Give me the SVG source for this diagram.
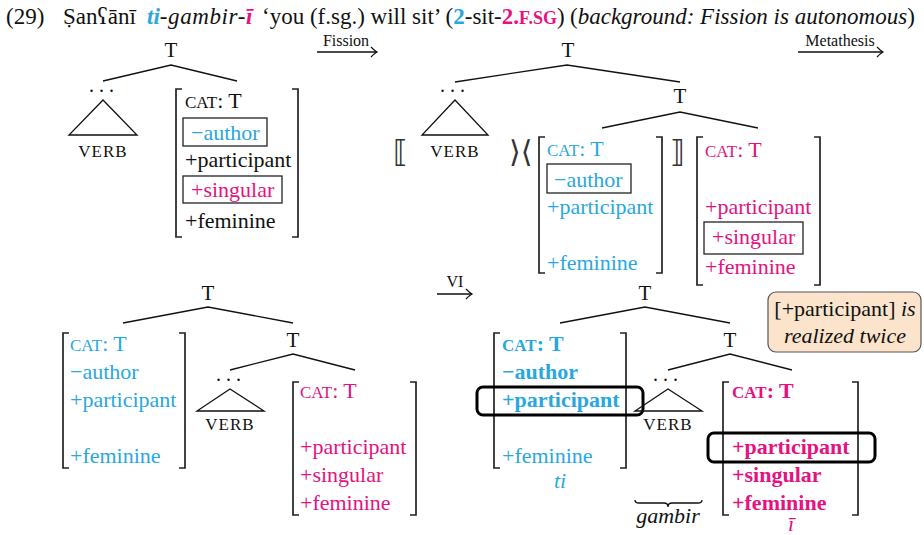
<svg xmlns="http://www.w3.org/2000/svg" width="924" height="535" viewBox="0 0 924 535">
<defs>
<style>
text{font-family:"Liberation Serif","DejaVu Serif",serif;fill:#111}
.hd{font-size:23px}
.f{font-size:22px}
.lbl{font-size:21px;text-anchor:middle}
.verb{font-size:17px;letter-spacing:1px;text-anchor:middle}
.sc{font-size:17px}
.dots{font-size:20px;letter-spacing:5px}
.ar{font-size:16px;text-anchor:middle}
.b{fill:#29a8e0}
.p{fill:#e6127f}
.bold{font-weight:bold}
.it{font-style:italic}
.edge{fill:none;stroke:#111;stroke-width:1.3}
.brk{fill:none;stroke:#222;stroke-width:1.7}
.box{fill:none;stroke:#222;stroke-width:1.3}
.hl{fill:none;stroke:#000;stroke-width:3}
.sym{font-family:"DejaVu Sans",sans-serif;font-size:30px;fill:#333}
</style>
<marker id="arr" viewBox="-8 -6 10 12" markerWidth="10" markerHeight="12" refX="0" refY="0" orient="auto" markerUnits="userSpaceOnUse">
<path d="M-6,-5 Q-2,-1 0,0 Q-2,1 -6,5" fill="none" stroke="#111" stroke-width="1.2"/>
</marker>
</defs>

<g id="header">
<text class="hd" x="6" y="24">(29)</text>
<text class="hd" y="24"><tspan x="63">Ṣanʕānī</tspan> <tspan x="147" class="b bold it">ti</tspan><tspan class="it" letter-spacing="0.6">-gambir-</tspan><tspan class="p bold it">ī</tspan> <tspan x="262">‘you (f.sg.) will sit’</tspan> (<tspan class="b bold">2</tspan>-sit-<tspan class="p bold">2.<tspan font-size="18">F.SG</tspan></tspan>) <tspan x="570">(</tspan><tspan class="it">background: Fission is autonomous</tspan>)</text>
</g>

<g id="connectors">
<path class="edge" d="M103,81 L171,65 L237,81"/>
<path class="edge" d="M455,82 L567,65 L680,82"/>
<path class="edge" d="M602,128 L680,112 L758,128"/>
<path class="edge" d="M123,323 L208,307 L293,323"/>
<path class="edge" d="M230,370 L293,354 L355,370"/>
<path class="edge" d="M560,323 L645,307 L730,323"/>
<path class="edge" d="M668,370 L730,354 L792,370"/>
<path class="edge" d="M317,52 L377,52" marker-end="url(#arr)"/>
<path class="edge" d="M798,52 L883,52" marker-end="url(#arr)"/>
<path class="edge" d="M437,294 L472,294" marker-end="url(#arr)"/>
</g>

<g id="arrow-labels">
<text class="ar" x="346" y="46">Fission</text>
<text class="ar" x="840" y="46">Metathesis</text>
<text class="ar" x="455" y="287">VI</text>
</g>

<!-- Tree 1 -->
<g id="t1-root"><text class="lbl" x="171" y="57">T</text></g>
<g id="t1-verb">
<text class="dots" x="89" y="92">...</text>
<path class="edge" d="M103,100 L69,135 L137,135 Z"/>
<text class="verb" x="103" y="157">VERB</text>
</g>
<g id="t1-matrix">
<path class="brk" d="M182,89 H176 V237 H182"/>
<path class="brk" d="M292,89 H298 V237 H292"/>
<text class="f" x="185" y="108"><tspan class="sc">CAT</tspan>: T</text>
<rect class="box" x="183" y="118" width="84" height="28"/>
<text class="f b" x="191" y="140">−author</text>
<text class="f" x="185" y="167">+participant</text>
<rect class="box" x="183" y="176" width="99" height="27"/>
<text class="f p" x="191" y="197">+singular</text>
<text class="f" x="185" y="228">+feminine</text>
</g>

<!-- Tree 2 -->
<g id="t2-root"><text class="lbl" x="568" y="57">T</text></g>
<g id="t2-verb">
<text class="dots" x="440" y="92">...</text>
<path class="edge" d="M455,100 L422,135 L488,135 Z"/>
<text class="verb" x="455" y="157">VERB</text>
<text class="sym" x="393" y="162">⟦</text>
<text class="sym" x="509" y="162">⟩⟨</text>
</g>
<g id="t2-inner"><text class="lbl" x="680" y="103">T</text></g>
<g id="t2-blue">
<path class="brk" d="M545,137 H539 V273 H545"/>
<path class="brk" d="M656,137 H662 V273 H656"/>
<text class="f b" x="547" y="156"><tspan class="sc">CAT</tspan>: T</text>
<rect class="box" x="547" y="164" width="84" height="29"/>
<text class="f b" x="554" y="187">−author</text>
<text class="f b" x="547" y="214">+participant</text>
<text class="f b" x="547" y="270">+feminine</text>
<text class="sym" x="670" y="162">⟧</text>
</g>
<g id="t2-pink">
<path class="brk" d="M703,137 H697 V285 H703"/>
<path class="brk" d="M814,137 H820 V285 H814"/>
<text class="f p" x="705" y="157"><tspan class="sc">CAT</tspan>: T</text>
<text class="f p" x="705" y="214">+participant</text>
<rect class="box" x="704" y="222" width="99" height="32"/>
<text class="f p" x="712" y="244">+singular</text>
<text class="f p" x="705" y="274">+feminine</text>
</g>

<!-- Tree 3 -->
<g id="t3-root"><text class="lbl" x="208" y="300">T</text></g>
<g id="t3-blue">
<path class="brk" d="M69,333 H63 V468 H69"/>
<path class="brk" d="M179,333 H185 V468 H179"/>
<text class="f b" x="70" y="351"><tspan class="sc">CAT</tspan>: T</text>
<text class="f b" x="70" y="379">−author</text>
<text class="f b" x="70" y="407">+participant</text>
<text class="f b" x="70" y="463">+feminine</text>
</g>
<g id="t3-inner"><text class="lbl" x="293" y="347">T</text></g>
<g id="t3-verb">
<text class="dots" x="216" y="381">...</text>
<path class="edge" d="M230,389 L197,411 L264,411 Z"/>
<text class="verb" x="230" y="430">VERB</text>
</g>
<g id="t3-pink">
<path class="brk" d="M299,382 H293 V515 H299"/>
<path class="brk" d="M410,382 H416 V515 H410"/>
<text class="f p" x="300" y="398"><tspan class="sc">CAT</tspan>: T</text>
<text class="f p" x="300" y="454">+participant</text>
<text class="f p" x="300" y="482">+singular</text>
<text class="f p" x="300" y="510">+feminine</text>
</g>

<!-- Tree 4 -->
<g id="t4-root"><text class="lbl" x="645" y="300">T</text></g>
<g id="t4-blue">
<path class="brk" d="M500,333 H494 V468 H500"/>
<path class="brk" d="M620,333 H626 V468 H620"/>
<text class="f b bold" x="502" y="351"><tspan class="sc">CAT</tspan>: T</text>
<text class="f b bold" x="502" y="379">−author</text>
<text class="f b bold" x="502" y="407">+participant</text>
<rect class="hl" x="477" y="387" width="166" height="28" rx="6"/>
<text class="f b" x="502" y="463">+feminine</text>
<text class="f b it" x="560" y="488" text-anchor="middle">ti</text>
</g>
<g id="t4-inner"><text class="lbl" x="730" y="347">T</text></g>
<g id="t4-verb">
<text class="dots" x="653" y="381">...</text>
<path class="edge" d="M668,389 L635,411 L702,411 Z"/>
<text class="verb" x="668" y="430">VERB</text>
<path class="edge" d="M635,500 Q635,503 639,503 L664,503 Q668,503 668,507 Q668,503 672,503 L698,503 Q702,503 702,500"/>
<text class="f it" x="668" y="523" text-anchor="middle">gambir</text>
</g>
<g id="t4-pink">
<path class="brk" d="M729,382 H723 V515 H729"/>
<path class="brk" d="M852,382 H858 V515 H852"/>
<text class="f p bold" x="732" y="398"><tspan class="sc">CAT</tspan>: T</text>
<text class="f p bold" x="732" y="454">+participant</text>
<rect class="hl" x="708" y="433" width="167" height="29" rx="6"/>
<text class="f p bold" x="732" y="482">+singular</text>
<text class="f p bold" x="732" y="510">+feminine</text>
<text class="f p it" x="791" y="531" text-anchor="middle">ī</text>
</g>

<g id="callout">
<rect x="768" y="292" width="153" height="60" rx="8" fill="#fbe4cb" stroke="#555" stroke-width="1.2"/>
<text class="f" x="845" y="316" text-anchor="middle">[+participant] <tspan class="it">is</tspan></text>
<text class="f it" x="845" y="343" text-anchor="middle">realized twice</text>
</g>
</svg>
